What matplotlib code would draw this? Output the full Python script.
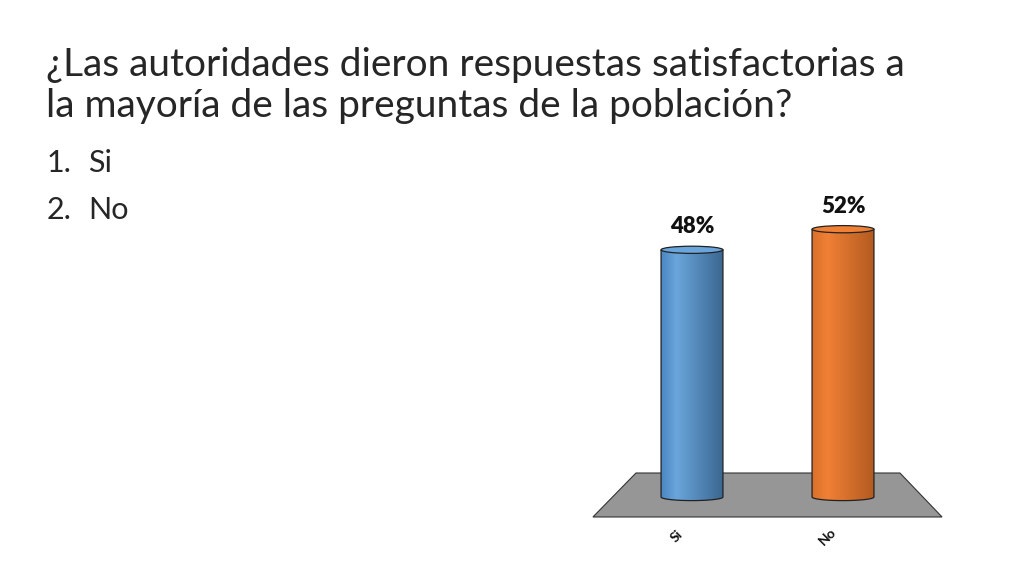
import numpy as np
import matplotlib.pyplot as plt
from matplotlib.path import Path
from matplotlib.patches import PathPatch, Ellipse, Polygon
from matplotlib.colors import LinearSegmentedColormap

# chart data
categories = ['Si', 'No']
values = [48, 52]
bar_colors = [('#4a86c2', '#6aa5db', '#3b6791'), ('#d9702a', '#f08035', '#b35b21')]

title = '¿Las autoridades dieron respuestas satisfactorias a\nla mayoría de las preguntas de la población?'
options = ['1.', '2.']

fig = plt.figure(figsize=(10.24, 5.76), dpi=100)
fig.patch.set_facecolor('white')

# slide text (baseline of the last title line)
fig.text(46 / 1024, 1 - 117 / 576, title, fontsize=28, family='Lato', weight='normal',
         color='#262626', va='baseline', ha='left', linespacing=1.17)
for i, (num, cat) in enumerate(zip(options, categories)):
    y = 1 - (172 + i * 47) / 576
    fig.text(47 / 1024, y, num, fontsize=22, family='Lato', weight='normal', color='#262626', va='baseline')
    fig.text(88 / 1024, y, cat, fontsize=22, family='Lato', weight='normal', color='#262626', va='baseline')

# chart axes placed in pixel space: x = 692 + 151*i, y = 497 - 5.15*v
px0, px1, py0, py1 = 560, 980, 180, 560
ax = fig.add_axes([px0 / 1024, 1 - py1 / 576, (px1 - px0) / 1024, (py1 - py0) / 576])
ax.axis('off')

# floor
floor = Polygon([(-0.371, 4.66), (1.377, 4.66), (1.656, -3.88), (-0.656, -3.88)],
                closed=True, facecolor='#969696', edgecolor='#333333', lw=0.8, zorder=1)
ax.add_patch(floor)

x = np.arange(len(categories))
width = 0.41
eh = 0.7  # half height of the cylinder ellipses
bars = ax.bar(x, values, width, color='none', edgecolor='none', zorder=2)

t = np.linspace(np.pi, 2 * np.pi, 40)
for bar, v, (c_left, c_mid, c_right) in zip(bars, values, bar_colors):
    x0 = bar.get_x()
    x1 = x0 + bar.get_width()
    xc = (x0 + x1) / 2
    h = bar.get_height()
    arc_x = xc + (width / 2) * np.cos(t)
    arc_y = eh * np.sin(t)
    verts = [(x0, h), (x0, 0)] + list(zip(arc_x, arc_y)) + [(x1, 0), (x1, h), (x0, h)]
    body = PathPatch(Path(verts), facecolor='none', edgecolor='none', zorder=3)
    ax.add_patch(body)
    cmap = LinearSegmentedColormap.from_list('cyl', [(0, c_left), (0.25, c_mid), (1, c_right)])
    grad = np.linspace(0, 1, 200).reshape(1, -1)
    im = ax.imshow(grad, cmap=cmap, extent=(x0, x1, -eh, h), aspect='auto', zorder=3,
                   interpolation='bilinear')
    im.set_clip_path(body)
    outline = PathPatch(Path(verts), facecolor='none', edgecolor='#222222', lw=0.9, zorder=4)
    ax.add_patch(outline)
    top = Ellipse((xc, h), width, 2 * eh, facecolor=c_mid, edgecolor='#222222', lw=0.9, zorder=5)
    ax.add_patch(top)
    ax.text(xc, h + 4.5, f'{v}%', ha='center', va='center', fontsize=16,
            family='Lato', weight='heavy', color='#111111')

for xi, cat in zip(x, categories):
    ax.text(xi - 0.1, -7.6, cat, ha='center', va='center', rotation=45,
            fontsize=10, family='Lato', weight='bold', color='#111111')

ax.set_xlim((px0 - 692) / 151, (px1 - 692) / 151)
ax.set_ylim((497 - py1) / 5.15, (497 - py0) / 5.15)

fig.savefig('out.png', dpi=100)
